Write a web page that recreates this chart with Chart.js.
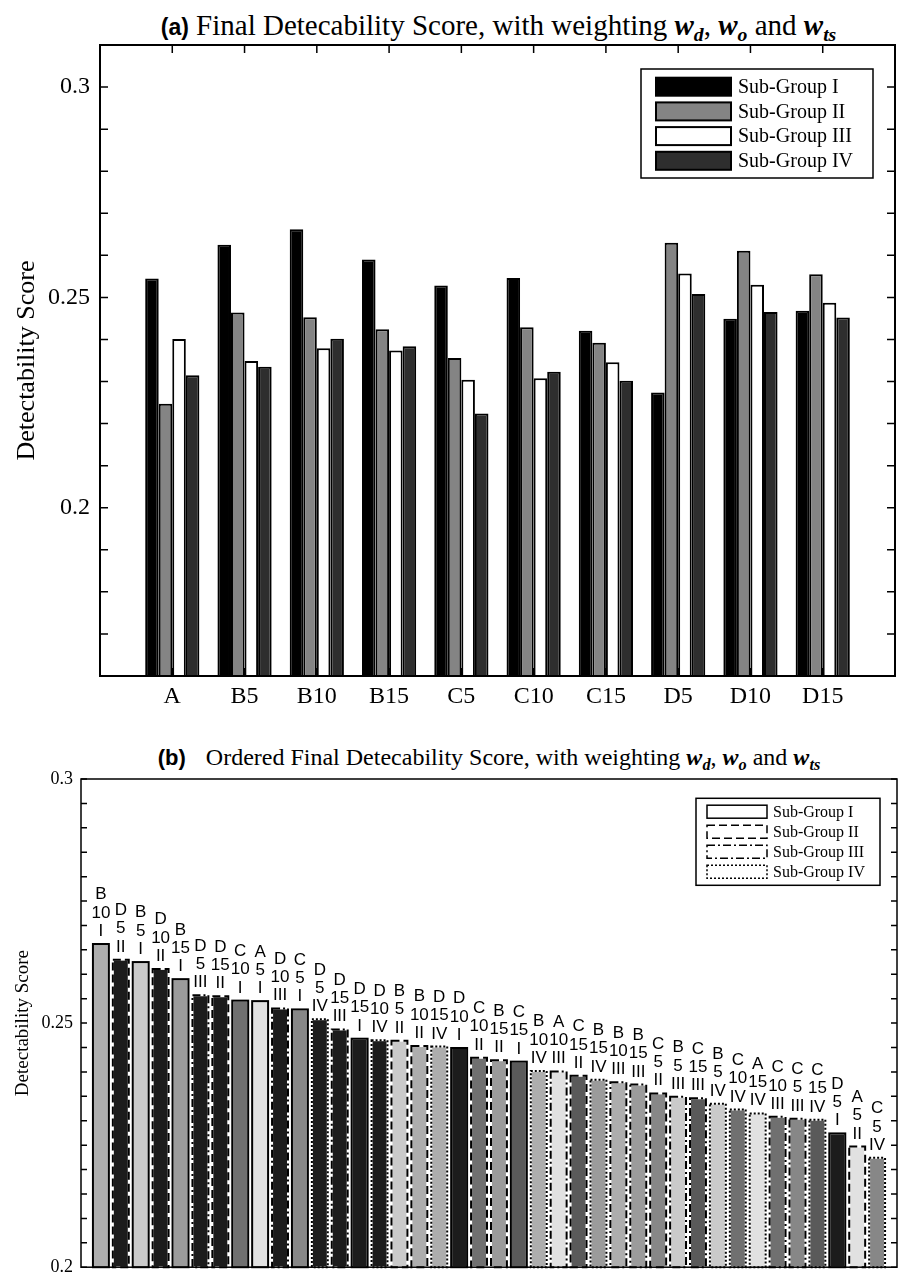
<!DOCTYPE html>
<html>
<head>
<meta charset="utf-8">
<script src="https://cdn.jsdelivr.net/npm/chart.js@4.4.0/dist/chart.umd.min.js"></script>
<style>
  body { margin: 0; background: #fff; width: 901px; height: 1286px; position: relative; overflow: hidden; }
  .title { position: absolute; white-space: nowrap; text-align: center; color: #000; font-family: "Liberation Serif", serif; }
  .title .tag { font-family: "Liberation Sans", Arial, sans-serif; font-weight: bold; }
  .title .m { font-weight: bold; font-style: italic; }
  .title sub { font-size: 68%; font-weight: bold; font-style: italic; vertical-align: -0.3em; line-height: 0; }
  #tA { left: 100px; width: 797px; top: 8px; font-size: 29px; line-height: 34px; }
  #tA .tag { font-size: 23px; }
  #tB { left: 81px; width: 816px; top: 743px; font-size: 24px; line-height: 28px; }
  #tB .tag { font-size: 22px; margin-right: 14px; }
  #boxA { position: absolute; left: 0; top: 0; width: 901px; height: 720px; }
  #boxB { position: absolute; left: 0; top: 720px; width: 901px; height: 566px; }
</style>
</head>
<body>
<div class="title" id="tA"><span class="tag">(a)</span> Final Detecability Score, with weighting <i class="m">w</i><sub>d</sub>, <i class="m">w</i><sub>o</sub> and <i class="m">w</i><sub>ts</sub></div>
<div id="boxA"><canvas id="chartA"></canvas></div>
<div class="title" id="tB"><span class="tag">(b)</span> Ordered Final Detecability Score, with weighting <i class="m">w</i><sub>d</sub>, <i class="m">w</i><sub>o</sub> and <i class="m">w</i><sub>ts</sub></div>
<div id="boxB"><canvas id="chartB"></canvas></div>

<script>
// Dữ liệu biểu đồ (a): điểm theo từng nhóm
const groupLabels = ['A', 'B5', 'B10', 'B15', 'C5', 'C10', 'C15', 'D5', 'D10', 'D15'];
const subGroupI   = [0.2545, 0.2625, 0.2662, 0.2590, 0.2528, 0.2546, 0.2421, 0.2274, 0.2449, 0.2468];
const subGroupII  = [0.2247, 0.2464, 0.2453, 0.2424, 0.2356, 0.2429, 0.2392, 0.2630, 0.2611, 0.2555];
const subGroupIII = [0.2401, 0.2349, 0.2379, 0.2374, 0.2304, 0.2308, 0.2346, 0.2557, 0.2530, 0.2487];
const subGroupIV  = [0.2315, 0.2335, 0.2402, 0.2384, 0.2224, 0.2323, 0.2302, 0.2508, 0.2465, 0.2452];
const subGroupNames = ['Sub-Group I', 'Sub-Group II', 'Sub-Group III', 'Sub-Group IV'];
const yLabelsA = [0.2, 0.25, 0.3];
const yLabelsB = [0.2, 0.25, 0.3];

// Dữ liệu biểu đồ (b): thứ tự sắp xếp (nhóm, sub-group) và nhãn trên cột
const orderedCats = ['B10','D5','B5','D10','B15','D5','D15','C10','A','D10',
                     'C5','D5','D15','D15','D10','B5','B10','D15','D10','C10',
                     'B15','C15','B10','A','C15','B15','B10','B15','C5','B5',
                     'C15','B5','C10','A','C10','C5','C15','D5','A','C5'];
const orderedGroups = [0,1,0,1,0,2,1,0,0,2, 0,3,2,0,3,1,1,3,0,1,
                       1,0,3,2,1,3,2,2,1,2, 2,3,3,3,2,2,3,0,1,3];
const orderedText = ['B 10 I','D 5 II','B 5 I','D 10 II','B 15 I','D 5 III','D 15 II','C 10 I','A 5 I','D 10 III',
                     'C 5 I','D 5 IV','D 15 III','D 15 I','D 10 IV','B 5 II','B 10 II','D 15 IV','D 10 I','C 10 II',
                     'B 15 II','C 15 I','B 10 IV','A 10 III','C 15 II','B 15 IV','B 10 III','B 15 III','C 5 II','B 5 III',
                     'C 15 III','B 5 IV','C 10 IV','A 15 IV','C 10 III','C 5 III','C 15 IV','D 5 I','A 5 II','C 5 IV'];

// Lấy giá trị từ bảng (a)
const subGroups = [subGroupI, subGroupII, subGroupIII, subGroupIV];
const orderedValues = orderedCats.map((c, i) => subGroups[orderedGroups[i]][groupLabels.indexOf(c)]);

// Màu sắc
const barColorsA = ['#000000', '#848484', '#ffffff', '#2e2e2e'];
const catColors = { A: '#e1e1e1', B5: '#cacaca', B10: '#adadad', B15: '#9b9b9b', C5: '#878787',
                    C10: '#707070', C15: '#5a5a5a', D5: '#1c1c1c', D10: '#1c1c1c', D15: '#1c1c1c' };
const barColorsB = orderedCats.map(c => catColors[c]);
barColorsB[17] = '#adadad'; // cột D15 IV trong hình có màu xám nhạt
const dashStyles = [[], [8, 4], [8, 3, 2, 3], [2, 2]];

const pad = arr => [null, ...arr, null];

// Plugin vẽ khung, vạch chia kiểu MATLAB và chú thích trong vùng vẽ
const matlabLook = {
  id: 'matlabLook',
  beforeDatasetsDraw(chart, args, o) {
    const { ctx, chartArea: a, scales: { x, y } } = chart;
    ctx.save();
    ctx.strokeStyle = '#000';
    ctx.lineWidth = 1.5;
    ctx.beginPath();
    y.ticks.forEach(t => {
      const py = y.getPixelForValue(t.value);
      ctx.moveTo(a.left, py); ctx.lineTo(a.left + o.tickLen, py);
      ctx.moveTo(a.right, py); ctx.lineTo(a.right - o.tickLen, py);
    });
    if (o.xTicks) {
      for (let i = 1; i < x.ticks.length - 1; i++) {
        const px = x.getPixelForValue(i);
        ctx.moveTo(px, a.top); ctx.lineTo(px, a.top + o.tickLen);
        ctx.moveTo(px, a.bottom); ctx.lineTo(px, a.bottom - o.tickLen);
      }
    }
    ctx.stroke();
    ctx.restore();
  },
  afterDraw(chart, args, o) {
    const { ctx, chartArea: a } = chart;
    ctx.save();
    ctx.strokeStyle = '#000';
    ctx.lineWidth = o.frameWidth;
    ctx.strokeRect(a.left, a.top, a.right - a.left, a.bottom - a.top);

    const L = o.legend;
    const bx = a.right - L.right - L.width, by = a.top + L.top;
    ctx.fillStyle = '#fff';
    ctx.fillRect(bx, by, L.width, L.height);
    ctx.lineWidth = 1.5;
    ctx.strokeRect(bx, by, L.width, L.height);
    L.items.forEach((it, i) => {
      const cy = by + L.first + i * L.step;
      ctx.fillStyle = it.fill;
      ctx.fillRect(bx + L.swX, cy - L.swH / 2, L.swW, L.swH);
      ctx.setLineDash(it.dash || []);
      ctx.lineWidth = L.swLine;
      ctx.strokeRect(bx + L.swX, cy - L.swH / 2, L.swW, L.swH);
      ctx.setLineDash([]);
      ctx.fillStyle = '#000';
      ctx.font = L.font;
      ctx.textAlign = 'left';
      ctx.textBaseline = 'middle';
      ctx.fillText(it.text, bx + L.textX, cy + 1);
    });
    ctx.restore();
  }
};

// Plugin viền nét đứt và nhãn trên từng cột (b)
const barOutlines = {
  id: 'barOutlines',
  afterDatasetsDraw(chart) {
    const ctx = chart.ctx;
    const bottom = chart.chartArea.bottom;
    const meta = chart.getDatasetMeta(0);
    ctx.save();
    meta.data.forEach((el, i) => {
      const k = i - 1;
      if (k < 0 || k >= orderedValues.length) return;
      const { x, y, base, width } = el.getProps(['x', 'y', 'base', 'width'], true);
      const b = Math.min(base, bottom);
      const l = x - width / 2;
      ctx.lineWidth = 2;
      ctx.setLineDash([]);
      ctx.strokeStyle = '#fff';
      ctx.strokeRect(l, y, width, b - y);
      ctx.setLineDash(dashStyles[orderedGroups[k]]);
      ctx.strokeStyle = '#000';
      ctx.strokeRect(l, y, width, b - y);
      ctx.setLineDash([]);
      const parts = orderedText[k].split(' ');
      ctx.fillStyle = '#000';
      ctx.font = '17px "Liberation Sans", Arial, sans-serif';
      ctx.textAlign = 'center';
      ctx.textBaseline = 'alphabetic';
      parts.forEach((s, j) => {
        ctx.fillText(s, x, y - 8 - (parts.length - 1 - j) * 18.3);
      });
    });
    ctx.restore();
  }
};

const isLabel = (v, list) => list.some(t => Math.abs(t - v) < 1e-6);

document.addEventListener('DOMContentLoaded', function() {
  // Biểu đồ (a)
  new Chart(document.getElementById('chartA'), {
    type: 'bar',
    data: {
      labels: ['', ...groupLabels, ''],
      datasets: subGroups.map((arr, i) => ({
        label: subGroupNames[i],
        data: pad(arr),
        backgroundColor: barColorsA[i],
        borderColor: '#000',
        borderWidth: 2,
        borderSkipped: false,
        categoryPercentage: 0.75,
        barPercentage: 1.0
      }))
    },
    plugins: [matlabLook],
    options: {
      responsive: true,
      maintainAspectRatio: false,
      animation: false,
      devicePixelRatio: 1,
      layout: { padding: { top: 45, right: 4, left: 0, bottom: 0 } },
      plugins: {
        legend: { display: false },
        tooltip: { enabled: false },
        matlabLook: {
          tickLen: 8, xTicks: true, frameWidth: 2,
          legend: {
            right: 22, top: 24, width: 232, height: 109,
            first: 17.7, step: 24.7, swX: 15, swW: 75, swH: 18, swLine: 2, textX: 97,
            font: '20px "Liberation Serif", serif',
            items: subGroupNames.map((n, i) => ({ text: n, fill: barColorsA[i] }))
          }
        }
      },
      scales: {
        x: {
          offset: false,
          grid: { display: false, drawTicks: false },
          border: { display: false },
          ticks: {
            autoSkip: false, maxRotation: 0, padding: 6, color: '#000',
            font: { family: 'Liberation Serif', size: 24 }
          },
          afterFit: s => { s.height = 44; }
        },
        y: {
          min: 0.16, max: 0.31,
          grid: { display: false, drawTicks: false },
          border: { display: false },
          ticks: {
            stepSize: 0.01, autoSkip: false, padding: 10, color: '#000',
            font: { family: 'Liberation Serif', size: 24 },
            callback: v => isLabel(v, yLabelsA) ? String(Math.round(v * 100) / 100) : ''
          },
          title: {
            display: true, text: 'Detectability Score', color: '#000',
            font: { family: 'Liberation Serif', size: 26 },
            padding: { top: 12, bottom: 0 }
          },
          afterFit: s => { s.width = 100; }
        }
      }
    }
  });

  // Biểu đồ (b)
  new Chart(document.getElementById('chartB'), {
    type: 'bar',
    data: {
      labels: ['', ...orderedText, ''],
      datasets: [{
        label: 'Ordered',
        data: pad(orderedValues),
        backgroundColor: pad(barColorsB),
        borderWidth: 0,
        categoryPercentage: 0.8,
        barPercentage: 1.0
      }]
    },
    plugins: [barOutlines, matlabLook],
    options: {
      responsive: true,
      maintainAspectRatio: false,
      animation: false,
      devicePixelRatio: 1,
      layout: { padding: { top: 59, right: 4, left: 0, bottom: 6 } },
      plugins: {
        legend: { display: false },
        tooltip: { enabled: false },
        matlabLook: {
          tickLen: 6, xTicks: false, frameWidth: 1.5,
          legend: {
            right: 17, top: 19.3, width: 184, height: 87,
            first: 13.4, step: 20, swX: 11, swW: 60, swH: 13, swLine: 1.5, textX: 77,
            font: '16px "Liberation Serif", serif',
            items: subGroupNames.map((n, i) => ({ text: n, fill: '#fff', dash: dashStyles[i] }))
          }
        }
      },
      scales: {
        x: {
          display: false,
          offset: false
        },
        y: {
          min: 0.2, max: 0.3,
          grid: { display: false, drawTicks: false },
          border: { display: false },
          ticks: {
            stepSize: 0.005, autoSkip: false, padding: 8, color: '#000',
            font: { family: 'Liberation Serif', size: 18 },
            callback: v => isLabel(v, yLabelsB) ? String(Math.round(v * 100) / 100) : ''
          },
          title: {
            display: true, text: 'Detectability Score', color: '#000',
            font: { family: 'Liberation Serif', size: 19 },
            padding: { top: 12, bottom: 0 }
          },
          afterFit: s => { s.width = 81; }
        }
      }
    }
  });
});
</script>
</body>
</html>
